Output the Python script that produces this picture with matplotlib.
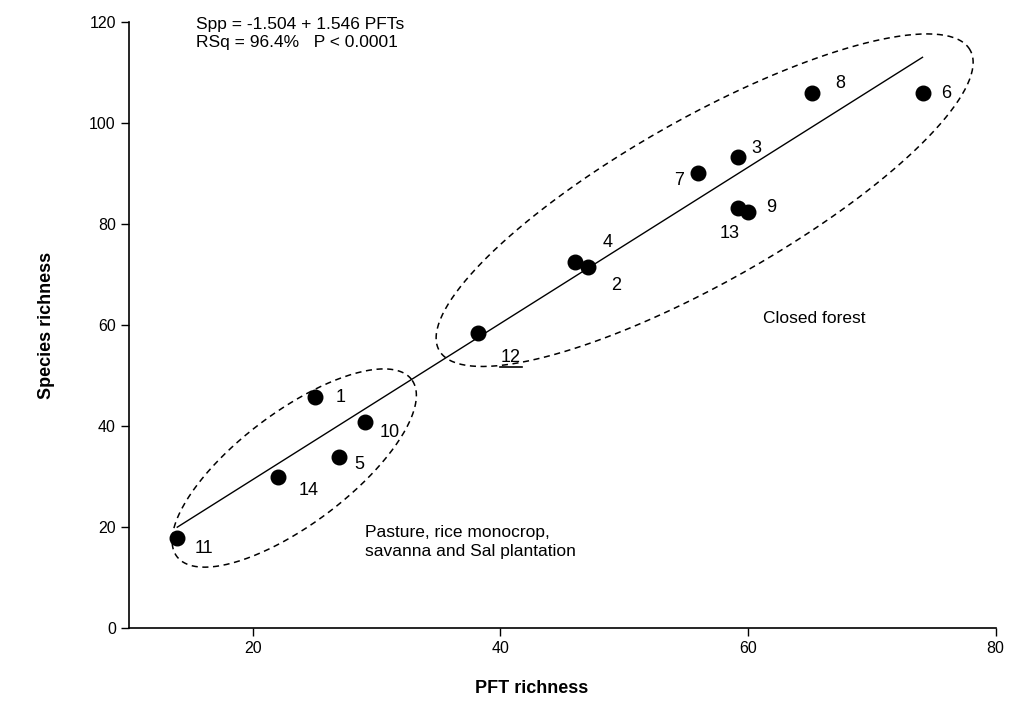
import numpy as np
import matplotlib
matplotlib.use("Agg")
from matplotlib import pyplot as plt

plt.rcParams["font.family"] = ["Liberation Sans", "DejaVu Sans"]

# Datos
sitios = ["1", "2", "3", "4", "5", "8", "7", "6", "9", "10", "11", "12", "13", "14"]
pft = [25.0, 47.1, 59.2, 46.0, 27.0, 65.2, 56.0, 74.1, 60.0, 29.1, 13.9, 38.2, 59.2, 22.0]
especies = [45.7, 71.5, 93.3, 72.5, 33.9, 105.9, 90.1, 105.9, 82.4, 40.8, 17.8, 58.4, 83.2, 29.9]
# desplazamiento de cada etiqueta (px)
despl = [(26, 0), (28, -18), (18, 9), (33, 20), (20, -8), (28, 10), (-19, -7),
         (24, 0), (23, 5), (24, -10), (27, -10), (33, -24), (-8, -25), (31, -13)]

intercepto = -1.504
pendiente = 1.546

fig = plt.figure(figsize=(10.10, 7.17), dpi=100)
ax = fig.add_axes([0.1277, 0.124, 0.858, 0.845])
ax.set_xlim(10, 80)
ax.set_ylim(0, 120)
ax.set_xticks([20, 40, 60, 80])
ax.set_yticks([0, 20, 40, 60, 80, 100, 120])
ax.spines["top"].set_visible(False)
ax.spines["right"].set_visible(False)
ax.spines["left"].set_linewidth(1.2)
ax.spines["bottom"].set_linewidth(1.2)
ax.tick_params(direction="out", length=6, width=1, labelsize=11.5)

# Linea de regresion
xl = np.array([min(pft), max(pft)])
ax.plot(xl, intercepto + pendiente * xl, color="black", lw=1.0)

# Puntos
ax.scatter(pft, especies, s=110, color="black", zorder=3)
subrayar = None
for nombre, x, y, d in zip(sitios, pft, especies, despl):
    t = ax.annotate(nombre, (x, y), xytext=(d[0] * 0.72, d[1] * 0.72),
                    textcoords="offset points", ha="center", va="center",
                    fontsize=13)
    if nombre == "12":
        subrayar = t


def elipse(cx, cy, a, b, ang):
    # elipse definida en pixeles alrededor de un centro en datos
    c = ax.transData.transform((cx, cy))
    t = np.linspace(0, 2 * np.pi, 300)
    r = np.deg2rad(ang)
    px = c[0] + a * np.cos(t) * np.cos(r) - b * np.sin(t) * np.sin(r)
    py = c[1] + a * np.cos(t) * np.sin(r) + b * np.sin(t) * np.cos(r)
    d = ax.transData.inverted().transform(np.column_stack([px, py]))
    ax.plot(d[:, 0], d[:, 1], color="black", lw=1.1, ls=(0, (4, 3)))


elipse(56.5, 84.75, 305, 82, 29.5)
elipse(23.35, 31.7, 147, 56, 37)

ax.text(15.4, 121.0, "Spp = -1.504 + 1.546 PFTs\nRSq = 96.4%   P < 0.0001",
        fontsize=12.5, va="top", ha="left", linespacing=1.2)
ax.text(61.2, 61.4, "Closed forest", fontsize=12.5, va="center", ha="left")
ax.text(29.1, 17.0, "Pasture, rice monocrop,\nsavanna and Sal plantation",
        fontsize=12.5, va="center", ha="left", linespacing=1.3)

ax.set_xlabel("PFT richness", fontsize=13, fontweight="bold")
ax.set_ylabel("Species richness", fontsize=13, fontweight="bold")
ax.xaxis.set_label_coords(0.465, -0.085)
ax.yaxis.set_label_coords(-0.085, 0.5)

# subrayado de la etiqueta 12
fig.canvas.draw()
bb = subrayar.get_window_extent()
inv = ax.transData.inverted()
p = inv.transform([[bb.x0 - 1, bb.y0 - 1], [bb.x1 + 1, bb.y0 - 1]])
ax.plot(p[:, 0], p[:, 1], color="black", lw=1.2)

fig.savefig("out.png", dpi=100)
